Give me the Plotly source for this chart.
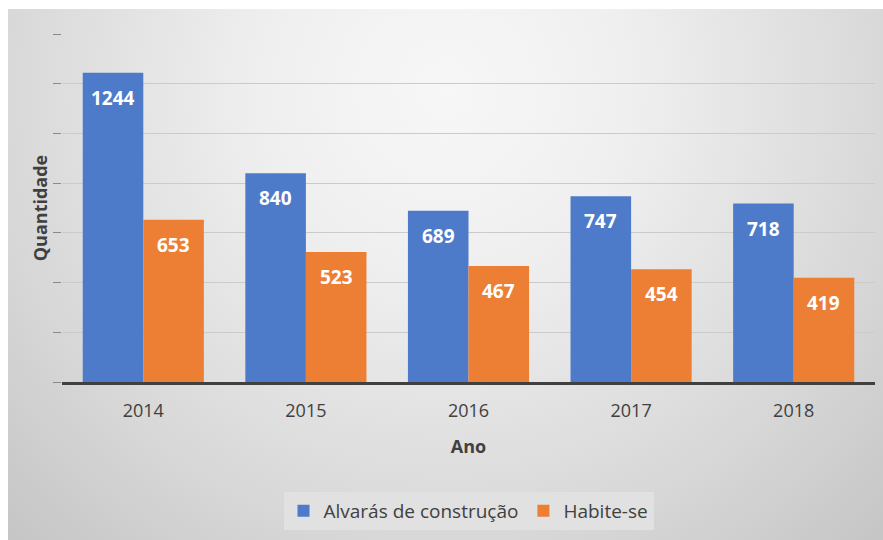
import base64
import plotly.graph_objects as go

# Yearly counts of construction permits and occupancy certificates
anos = ["2014", "2015", "2016", "2017", "2018"]
alvaras = [1244, 840, 689, 747, 718]
habite_se = [653, 523, 467, 454, 419]

series_names = ["Alvarás de construção", "Habite-se"]
series_colors = ["#4e7bc9", "#ed7f35"]

W, H = 883, 540
ML, MR, MT, MB = 62, 8, 34, 158
plot_w = W - ML - MR
plot_h = H - MT - MB
TXT = "#404040"
FONT = "Open Sans"

# Soft radial background panel (SVG gradient as a layout image)
bg_x0, bg_y0 = 8, 9
bg_w, bg_h = W - bg_x0, H - bg_y0
svg = f"""<svg xmlns='http://www.w3.org/2000/svg' width='{bg_w}' height='{bg_h}' viewBox='0 0 {bg_w} {bg_h}' preserveAspectRatio='none'>
<defs><radialGradient id='g' gradientUnits='userSpaceOnUse' cx='{bg_w/2}' cy='80' r='620'>
<stop offset='0' stop-color='#f7f7f7'/>
<stop offset='0.3' stop-color='#efefef'/>
<stop offset='0.72' stop-color='#d8d8d8'/>
<stop offset='1' stop-color='#c6c6c6'/>
</radialGradient></defs>
<rect x='0' y='0' width='{bg_w}' height='{bg_h}' fill='url(#g)'/>
</svg>"""
bg_src = "data:image/svg+xml;base64," + base64.b64encode(svg.encode()).decode()

fig = go.Figure()
for name, vals, color in zip(series_names, [alvaras, habite_se], series_colors):
    fig.add_trace(go.Bar(
        x=anos, y=vals, name=name,
        marker=dict(color=color, line=dict(width=0)),
        hoverinfo="x+y+name",
    ))

# Value labels just inside the top of each bar (x given as category index)
bar_half = plot_w / len(anos) * (1 - 0.255) / 4
annotations = []
for vals, sign in [(alvaras, -1), (habite_se, 1)]:
    for i, v in enumerate(vals):
        annotations.append(dict(
            x=i, y=v, xref="x", yref="y", text=f"<b>{v}</b>",
            showarrow=False, xshift=sign * bar_half, yshift=-25,
            yanchor="middle", xanchor="center",
            font=dict(family=FONT, size=19, color="white"),
        ))

fig.update_layout(
    width=W, height=H,
    margin=dict(l=ML, r=MR, t=MT, b=MB, pad=0),
    paper_bgcolor="white",
    plot_bgcolor="rgba(0,0,0,0)",
    barmode="group", bargap=0.255, bargroupgap=0,
    font=dict(family=FONT, color=TXT),
    showlegend=True,
    legend=dict(
        orientation="h", x=0.5, xanchor="center",
        y=-(511 - (MT + plot_h)) / plot_h, yanchor="middle",
        bgcolor="#e1e1e1", borderwidth=0,
        font=dict(family=FONT, size=19, color=TXT),
        itemwidth=30, tracegroupgap=0,
    ),
    annotations=annotations,
    images=[dict(
        source=bg_src, xref="paper", yref="paper",
        x=(bg_x0 - ML) / plot_w, y=(MT + plot_h - bg_y0) / plot_h,
        sizex=bg_w / plot_w, sizey=bg_h / plot_h,
        xanchor="left", yanchor="top", sizing="stretch", layer="below",
    )],
    xaxis=dict(
        type="category", range=[-0.5, len(anos) - 0.5], autorange=False,
        showgrid=False, showline=True, linecolor=TXT, linewidth=3,
        ticks="", ticklabelstandoff=10,
        tickfont=dict(family=FONT, size=18, color=TXT),
        title=dict(text="<b>Ano</b>", font=dict(family=FONT, size=18, color=TXT), standoff=20),
        fixedrange=True,
    ),
    yaxis=dict(
        range=[0, 1400], autorange=False, dtick=200, showticklabels=False,
        showgrid=True, gridcolor="#cbcbcb", gridwidth=1,
        ticks="outside", ticklen=8, tickcolor="#8a8a8a",
        zeroline=False, showline=False,
        title=dict(text="<b>Quantidade</b>", font=dict(family=FONT, size=18, color=TXT), standoff=0),
        fixedrange=True,
    ),
)

fig.write_html("out.html")
